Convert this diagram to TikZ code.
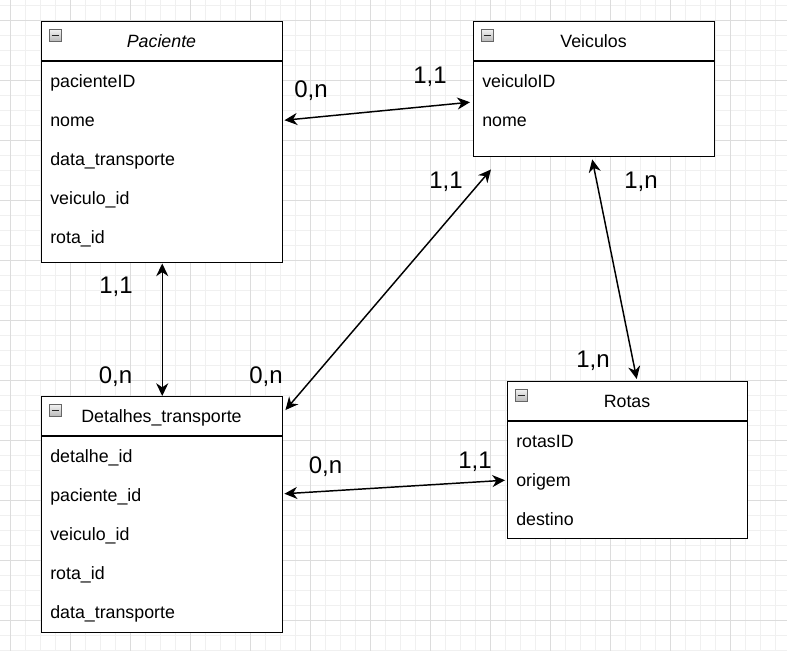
\documentclass[tikz,border=0pt]{standalone}
\usepackage{fontspec}
\setmainfont{Liberation Sans}
\usetikzlibrary{arrows.meta,calc}
\definecolor{minorgrid}{HTML}{F0F0F0}
\definecolor{majorgrid}{HTML}{DCDCDC}
\begin{document}
\begin{tikzpicture}[x=0.75pt,y=-0.75pt,
 box/.style={draw=black, line width=1.1pt, rectangle, inner sep=0pt, anchor=north west},
 rowtxt/.style={anchor=base west, inner sep=0pt, font=\fontsize{13.35pt}{16pt}\selectfont},
 title/.style={anchor=base, inner sep=0pt, font=\fontsize{13.35pt}{16pt}\selectfont},
 card/.style={anchor=base, inner sep=0pt, font=\fontsize{18pt}{20pt}\selectfont},
 link/.style={line width=1.1pt, {Stealth[length=9.5pt,width=9pt,inset=3pt]}-{Stealth[length=9.5pt,width=9pt,inset=3pt]}},
 icon/.style={draw=gray!80!black, line width=0.5pt, top color=gray!10, bottom color=gray!55, minimum size=9pt, inner sep=0pt, anchor=north west},
 sep/.style={line width=1.1pt},
 minus/.style={line width=1.1pt, black!85},
 mgrid/.style={draw=minorgrid, line width=0.75pt},
 Mgrid/.style={draw=majorgrid, line width=0.75pt}
]
\useasboundingbox (0,0) rectangle (787,651);
\fill[white] (0,0) rectangle (787,651);
% grid
\foreach \x in {10,25,...,785} \draw[mgrid] (\x,0) -- (\x,651);
\foreach \y in {5,20,...,650} \draw[mgrid] (0,\y) -- (787,\y);
\foreach \x in {10,70,...,730} \draw[Mgrid] (\x,0) -- (\x,651);
\foreach \y in {20,80,...,620} \draw[Mgrid] (0,\y) -- (787,\y);

% Paciente
\node[box, fill=white, minimum width=180.75pt, minimum height=180.75pt] (pac) at (41,21) {};
\draw[sep] ($(pac.north west)+(0,40)$) -- ($(pac.north east)+(0,40)$);
\node[icon] (pacicon) at (49,29) {};
\draw[minus] ($(pacicon.west)+(2.5,0)$) -- ($(pacicon.east)+(-2.5,0)$);
\node[title, font=\fontsize{13.35pt}{16pt}\selectfont\itshape] (pactitle) at (161.5,47.5) {Paciente};
\node[rowtxt] (p1) at (50,87.5) {pacienteID};
\node[rowtxt] (p2) at (50,126.5) {nome};
\node[rowtxt] (p3) at (50,165.5) {data\_transporte};
\node[rowtxt] (p4) at (50,204.5) {veiculo\_id};
\node[rowtxt] (p5) at (50,243.5) {rota\_id};

% Veiculos
\node[box, fill=white, minimum width=180.75pt, minimum height=101.25pt] (vei) at (473,21) {};
\draw[sep] ($(vei.north west)+(0,40)$) -- ($(vei.north east)+(0,40)$);
\node[icon] (veiicon) at (481,29) {};
\draw[minus] ($(veiicon.west)+(2.5,0)$) -- ($(veiicon.east)+(-2.5,0)$);
\node[title] (veititle) at (593.5,47.5) {Veiculos};
\node[rowtxt] (v1) at (482,87.5) {veiculoID};
\node[rowtxt] (v2) at (482,126.5) {nome};

% Detalhes_transporte
\node[box, fill=white, minimum width=180.75pt, minimum height=177pt] (det) at (41,396) {};
\draw[sep] ($(det.north west)+(0,40)$) -- ($(det.north east)+(0,40)$);
\node[icon] (deticon) at (49,404) {};
\draw[minus] ($(deticon.west)+(2.5,0)$) -- ($(deticon.east)+(-2.5,0)$);
\node[title] (dettitle) at (161.5,422.5) {Detalhes\_transporte};
\node[rowtxt] (d1) at (50,462.5) {detalhe\_id};
\node[rowtxt] (d2) at (50,501.5) {paciente\_id};
\node[rowtxt] (d3) at (50,540.5) {veiculo\_id};
\node[rowtxt] (d4) at (50,579.5) {rota\_id};
\node[rowtxt] (d5) at (50,618.5) {data\_transporte};

% Rotas
\node[box, fill=white, minimum width=180pt, minimum height=117.75pt] (rot) at (507,381) {};
\draw[sep] ($(rot.north west)+(0,40)$) -- ($(rot.north east)+(0,40)$);
\node[icon] (roticon) at (515,389) {};
\draw[minus] ($(roticon.west)+(2.5,0)$) -- ($(roticon.east)+(-2.5,0)$);
\node[title] (rottitle) at (627,407.5) {Rotas};
\node[rowtxt] (r1) at (516,447.5) {rotasID};
\node[rowtxt] (r2) at (516,486.5) {origem};
\node[rowtxt] (r3) at (516,525.5) {destino};

% connectors
\draw[link] ($(pac.east)+(1,-22)$) -- ($(vei.west)+(-3,13)$);
\draw[link] (pac.south) -- (det.north);
\draw[link] ($(vei.south west)+(18,12)$) -- ($(det.north east)+(2,14)$);
\draw[link] ($(vei.south)+(-2,2)$) -- ($(rot.north)+(9,-2)$);
\draw[link] ($(det.east)+(1,-21)$) -- ($(rot.west)+(-2,20)$);

% cardinalities
\node[card] (c1) at (311,97) {0,n};
\node[card] (c2) at (430,83) {1,1};
\node[card] (c3) at (446,188) {1,1};
\node[card] (c4) at (641,188) {1,n};
\node[card] (c5) at (116,293) {1,1};
\node[card] (c6) at (115.5,383) {0,n};
\node[card] (c7) at (266,383) {0,n};
\node[card] (c8) at (593,367) {1,n};
\node[card] (c9) at (325.5,473) {0,n};
\node[card] (c10) at (475,468) {1,1};
\end{tikzpicture}
\end{document}
